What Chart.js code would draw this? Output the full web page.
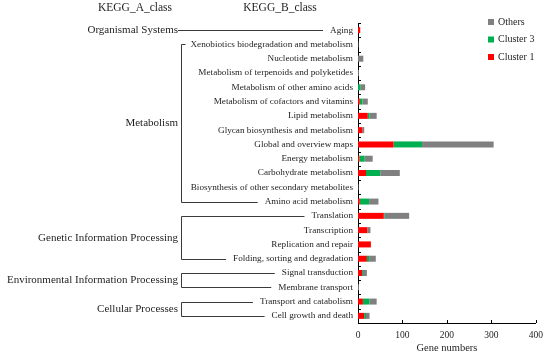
<!DOCTYPE html>
<html>
<head>
<meta charset="utf-8">
<script src="https://cdn.jsdelivr.net/npm/chart.js@4.4.0/dist/chart.umd.min.js"></script>
<style>
    html, body { margin: 0; padding: 0; background: #fff; }
    #wrap { width: 550px; height: 357px; }
</style>
</head>
<body>
<div id="wrap"><canvas id="keggChart"></canvas></div>
<script>
const categories = [
    "Aging",
    "Xenobiotics biodegradation and metabolism",
    "Nucleotide metabolism",
    "Metabolism of terpenoids and polyketides",
    "Metabolism of other amino acids",
    "Metabolism of cofactors and vitamins",
    "Lipid metabolism",
    "Glycan biosynthesis and metabolism",
    "Global and overview maps",
    "Energy metabolism",
    "Carbohydrate metabolism",
    "Biosynthesis of other secondary metabolites",
    "Amino acid metabolism",
    "Translation",
    "Transcription",
    "Replication and repair",
    "Folding, sorting and degradation",
    "Signal transduction",
    "Membrane transport",
    "Transport and catabolism",
    "Cell growth and death",
];
const cluster1 = [5, 0, 0, 0, 0, 4, 22, 10, 80, 3, 18, 0, 4, 58, 21, 29, 20, 9, 0, 11, 14];
const cluster3 = [0, 0, 0, 0, 6, 6, 4, 0, 64, 12, 32, 0, 21, 2, 0, 0, 5, 2, 0, 15, 4];
const others = [0, 1, 12, 2, 10, 12, 16, 4, 161, 18, 44, 1, 21, 55, 7, 0, 15, 9, 2, 16, 8];
const xTicks = [0, 100, 200, 300, 400];

// KEGG A classes: name, first and last B-class index
const classNames = ["Organismal Systems", "Metabolism", "Genetic Information Processing",
    "Environmental Information Processing", "Cellular Processes"];
const classFirst = [0, 1, 13, 17, 19];
const classLast = [0, 12, 16, 18, 20];

const FONT = "'Liberation Serif', 'Times New Roman', serif";
const TEXT = "#1e1e1e";
const LINE = "#3a3a3a";
const Y_PAD = 5;
const Y_FONT = 9.2;

// Headers, class brackets, legend and inside tick marks
const keggDecor = {
    id: "keggDecor",
    afterDraw(chart) {
        const ctx = chart.ctx;
        const y = chart.scales.y;
        const x = chart.scales.x;
        const area = chart.chartArea;
        ctx.save();

        // tick marks pointing into the plot
        ctx.strokeStyle = "#000";
        ctx.lineWidth = 1;
        ctx.beginPath();
        for (let i = 0; i <= categories.length; i++) {
            const py = Math.round(y.getPixelForValue(i - 0.5)) + 0.5;
            ctx.moveTo(area.left, py);
            ctx.lineTo(area.left + 3, py);
        }
        xTicks.slice(1).forEach(function (v) {
            const px = Math.round(x.getPixelForValue(v)) + 0.5;
            ctx.moveTo(px, area.bottom);
            ctx.lineTo(px, area.bottom - 3);
        });
        ctx.stroke();

        // column headers
        ctx.fillStyle = TEXT;
        ctx.font = "11.5px " + FONT;
        ctx.textAlign = "center";
        ctx.textBaseline = "middle";
        ctx.fillText("KEGG_A_class", 135, 8);
        ctx.fillText("KEGG_B_class", 280, 8);

        // brackets
        ctx.font = Y_FONT + "px " + FONT;
        const labelRight = area.left - Y_PAD;
        const lineEnd = function (i) {
            return labelRight - ctx.measureText(categories[i]).width - 7;
        };
        const bx = 181.5;
        ctx.strokeStyle = LINE;
        ctx.beginPath();
        const mids = [];
        for (let c = 0; c < classNames.length; c++) {
            const y1 = Math.round(y.getPixelForValue(classFirst[c])) + 0.5;
            const y2 = Math.round(y.getPixelForValue(classLast[c])) + 0.5;
            if (classFirst[c] === classLast[c]) {
                ctx.moveTo(178, y1);
                ctx.lineTo(lineEnd(classFirst[c]), y1);
                mids.push(y1);
            } else {
                ctx.moveTo(Math.max(lineEnd(classFirst[c]), bx + 4), y1);
                ctx.lineTo(bx, y1);
                ctx.lineTo(bx, y2);
                ctx.lineTo(Math.max(lineEnd(classLast[c]), bx + 4), y2);
                mids.push((y1 + y2) / 2);
            }
        }
        ctx.stroke();

        // class names
        ctx.font = "11px " + FONT;
        ctx.textAlign = "right";
        classNames.forEach(function (name, c) {
            ctx.fillText(name, 178, mids[c]);
        });

        // legend (top-most entry is the last stacked series)
        ctx.font = "10px " + FONT;
        ctx.textAlign = "left";
        const sets = chart.data.datasets.slice().reverse();
        sets.forEach(function (ds, k) {
            const ly = 22 + k * 17.5;
            ctx.fillStyle = ds.backgroundColor;
            ctx.fillRect(488, ly - 3, 6, 6);
            ctx.fillStyle = TEXT;
            ctx.fillText(ds.label, 498, ly);
        });

        ctx.restore();
    },
};

function createKeggChart() {
    const ctx = document.getElementById("keggChart").getContext("2d");

    new Chart(ctx, {
        type: "bar",
        data: {
            labels: categories,
            datasets: [
                {label: "Cluster 1", data: cluster1, backgroundColor: "#ff0000"},
                {label: "Cluster 3", data: cluster3, backgroundColor: "#00b050"},
                {label: "Others", data: others, backgroundColor: "#808080"},
            ],
        },
        options: {
            indexAxis: "y",
            responsive: true,
            maintainAspectRatio: false,
            animation: false,
            datasets: {
                bar: {
                    barPercentage: 0.42,
                    categoryPercentage: 1,
                    borderWidth: 0,
                },
            },
            layout: {
                padding: {top: 23, right: 11, bottom: 0, left: 0},
            },
            plugins: {
                legend: {display: false},
                tooltip: {enabled: false},
            },
            scales: {
                x: {
                    stacked: true,
                    min: 0,
                    max: 400,
                    grid: {display: false, drawTicks: false},
                    border: {display: true, color: "#000", width: 1},
                    ticks: {
                        stepSize: 100,
                        padding: 7,
                        color: TEXT,
                        font: {family: FONT, size: 9.5},
                    },
                    title: {
                        display: true,
                        text: "Gene numbers",
                        color: TEXT,
                        font: {family: FONT, size: 10.5},
                        padding: {top: 0, bottom: 2},
                    },
                    afterFit: function (scale) {
                        scale.height = 34;
                    },
                },
                y: {
                    stacked: true,
                    grid: {display: false, drawTicks: false},
                    border: {display: true, color: "#000", width: 1},
                    ticks: {
                        padding: Y_PAD,
                        color: TEXT,
                        autoSkip: false,
                        font: {family: FONT, size: Y_FONT},
                    },
                    afterFit: function (scale) {
                        scale.width = 358;
                    },
                },
            },
        },
        plugins: [keggDecor],
    });
}

document.addEventListener("DOMContentLoaded", createKeggChart);
</script>
</body>
</html>
